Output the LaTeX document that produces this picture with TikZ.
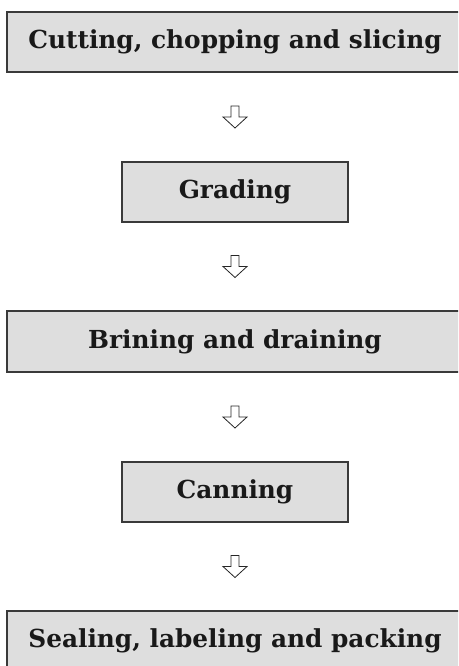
\documentclass[tikz,border=0pt]{standalone}
\usepackage{fontspec}
\setmainfont{DejaVu Serif}
\usetikzlibrary{calc}
\definecolor{boxfill}{HTML}{DEDEDE}
\definecolor{boxline}{HTML}{3A3A3A}
\tikzset{
  stepbox/.style={draw=boxline, line width=1.3pt, fill=boxfill, minimum height=60pt,
    inner sep=0pt, font=\fontsize{24.8}{28}\selectfont\bfseries, text=black!90},
  widebox/.style={stepbox, minimum width=456pt},
  narrowbox/.style={stepbox, minimum width=226pt},
  downarrow/.pic={\draw[draw=black!85, line width=0.8pt, line join=miter]
     (-4,-11) -- (-4,0) -- (-12,0) -- (0,11) -- (12,0) -- (4,0) -- (4,-11) -- cycle;}
}
\begin{document}
\begin{tikzpicture}[x=1pt, y=-1pt]
\useasboundingbox (0,0) rectangle (458,666);
\clip (0,0) rectangle (458,666);
\fill[white] (0,0) rectangle (458,666);
\node[widebox] (A) at (235,42) {Cutting, chopping and slicing};
\node[narrowbox] (B) at (235,192) {Grading};
\node[widebox, minimum height=61pt] (C) at (235,341.5) {Brining and draining};
\node[narrowbox] (D) at (235,492) {Canning};
\node[widebox] (E) at (235,641) {Sealing, labeling and packing};
\path ($(A.south)!0.5!(B.north)$) pic {downarrow};
\path ($(B.south)!0.5!(C.north)$) pic {downarrow};
\path ($(C.south)!0.5!(D.north)$) pic {downarrow};
\path ($(D.south)!0.5!(E.north)$) pic {downarrow};
\end{tikzpicture}
\end{document}
